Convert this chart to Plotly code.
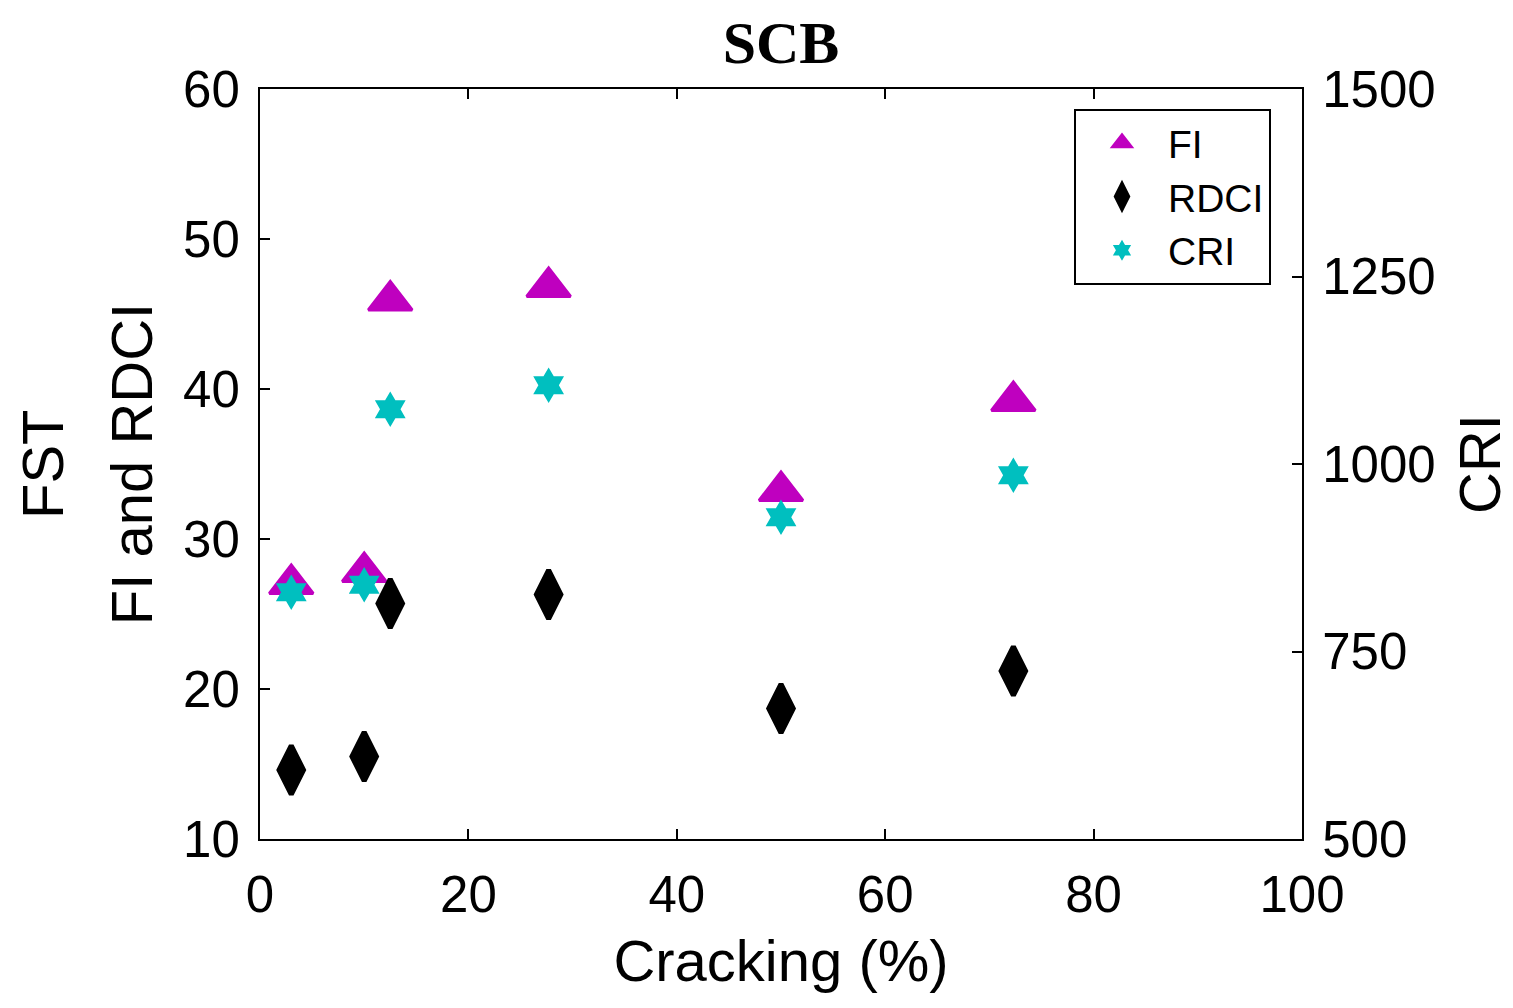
import plotly.graph_objects as go

# Data
cracking = [3, 10, 12.5, 27.7, 50, 72.3]
fi = [27.0, 27.8, 45.9, 46.8, 33.2, 39.2]
rdci = [14.6, 15.5, 25.7, 26.3, 18.7, 21.2]
cri = [829, 839, 1073, 1105, 929, 985]

x_ticks = [0, 20, 40, 60, 80, 100]
y_ticks = [10, 20, 30, 40, 50, 60]
y2_ticks = [500, 750, 1000, 1250, 1500]

MAGENTA = "#BF00BF"
CYAN = "#00BFBF"
FONT = "Liberation Sans, Arial, sans-serif"

fig = go.Figure()
fig.add_trace(go.Scatter(
    x=cracking, y=fi, mode="markers", name="FI",
    marker=dict(symbol="triangle-up", size=38, color=MAGENTA,
                line=dict(color=MAGENTA, width=3)),
))
fig.add_trace(go.Scatter(
    x=cracking, y=rdci, mode="markers", name="RDCI",
    marker=dict(symbol="diamond-tall", size=35, color="black",
                line=dict(color="black", width=5)),
))
fig.add_trace(go.Scatter(
    x=cracking, y=cri, mode="markers", name="CRI", yaxis="y2",
    marker=dict(symbol="hexagram", size=27, color=CYAN,
                line=dict(color=CYAN, width=0)),
))

axis_common = dict(
    showgrid=False, zeroline=False, showline=True, linecolor="black",
    linewidth=2, ticks="inside", ticklen=10, tickwidth=2, tickcolor="black",
    tickfont=dict(family=FONT, size=51, color="black"),
)

fig.update_layout(
    width=1513, height=1008,
    margin=dict(l=260, r=211, t=89, b=169),
    paper_bgcolor="white", plot_bgcolor="white",
    title=dict(text="<b>SCB</b>", x=(260 + 1302) / 2 / 1513, xanchor="center",
               y=1 - 42 / 1008, yanchor="middle",
               font=dict(family="Liberation Serif, Times New Roman, serif", size=60, color="black")),
    xaxis=dict(range=[0, 100], tickvals=x_ticks, mirror="ticks",
               ticklabelstandoff=10,
               title=dict(text="Cracking (%)", font=dict(family=FONT, size=58, color="black"),
                          standoff=18),
               **axis_common),
    yaxis=dict(range=[10, 60], tickvals=y_ticks, ticklabelstandoff=8,
               title=dict(text="FI and RDCI", font=dict(family=FONT, size=58, color="black"),
                          standoff=12),
               **axis_common),
    yaxis2=dict(range=[500, 1500], tickvals=y2_ticks, overlaying="y", side="right",
                ticklabelstandoff=8,
                title=dict(text="CRI", font=dict(family=FONT, size=58, color="black"),
                           standoff=25),
                **axis_common),
    legend=dict(x=(1074 - 260) / 1042, y=(839 - 109) / 750, xanchor="left", yanchor="top",
                bordercolor="black", borderwidth=2, bgcolor="white",
                font=dict(family=FONT, size=39, color="black"),
                itemwidth=82, tracegroupgap=0),
    showlegend=True,
    annotations=[dict(text="FST", xref="paper", yref="paper",
                      x=(42 - 260) / 1042, y=0.5, xanchor="center", yanchor="middle",
                      textangle=-90, showarrow=False,
                      font=dict(family=FONT, size=58, color="black"))],
)

fig.write_html("out.html")
